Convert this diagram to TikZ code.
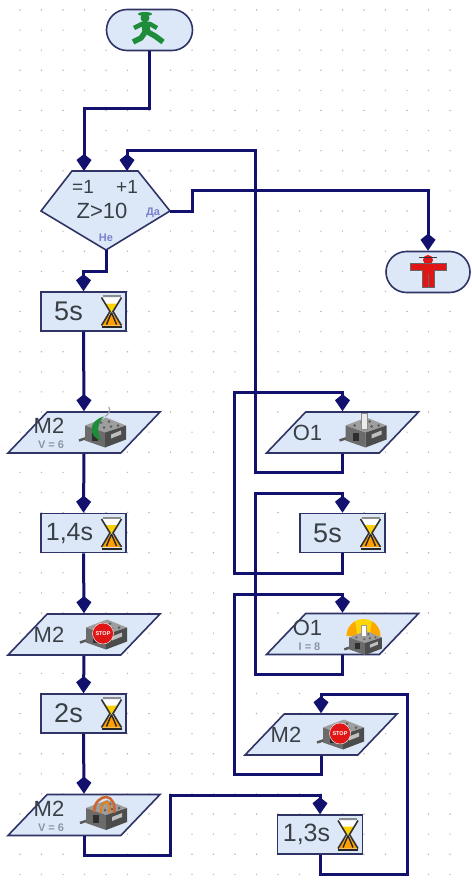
\documentclass[tikz,border=0pt]{standalone}
\usepackage{fontspec}
\setmainfont{Liberation Sans}
\usetikzlibrary{arrows.meta}
\usetikzlibrary{shapes.geometric,shapes.misc}
\definecolor{navy}{HTML}{12126E}
\definecolor{blockedge}{HTML}{2F3366}
\definecolor{blockfill}{HTML}{DCE8F8}
\definecolor{inktxt}{HTML}{3A3F46}
\definecolor{subtxt}{HTML}{8C94A6}
\definecolor{yesno}{HTML}{7C80CC}
\definecolor{walkgreen}{HTML}{1E8C3A}
\definecolor{stopred}{HTML}{E01515}
\tikzset{
 flow/.style={navy, line width=3, -{Kite[length=17pt,width=15pt,inset=6pt]}},
 blockline/.style={draw=blockedge, fill=blockfill, line width=1.6},
 endbox/.style={blockline, rounded rectangle, minimum width=86, minimum height=41, inner sep=0},
 timebox/.style={blockline, rectangle, minimum width=85, minimum height=39, inner sep=0},
 iobox/.style={blockline, trapezium, trapezium stretches=true, trapezium left angle=62, trapezium right angle=118, minimum width=152, minimum height=41, inner sep=1},
 ink/.style={text=inktxt, inner sep=0},
 pics/hourglass/.style={code={
  \fill[white] (-9,-14) -- (9,-14) -- (1,0) -- (9,14) -- (-9,14) -- (-1,0) -- cycle;
  \fill[yellow!70!orange] (-7,-8) -- (7,-8) -- (0,2) -- cycle;
  \fill[orange!75!yellow] (-9,14) -- (-5,6) -- (0,2) -- (5,6) -- (9,14) -- cycle;
  \draw[black!80, line width=1.6] (-10,-14) -- (-1.5,0) -- (-10,14) (10,-14) -- (1.5,0) -- (10,14);
  \draw[black!85, line width=1.4] (0,1) -- (-5,13) (0,1) -- (5,13);
  \draw[black!45, line width=2] (-9,-15.5) -- (9,-15.5);
  \draw[black!85, line width=2] (-10,15.5) -- (10,15.5);
 }},
 pics/brick/.style={code={
  \draw[black!65, line width=2.5] (-24,8) -- (-15,5);
  \fill[black!38] (-18,-7) -- (3,-15) -- (23,-7) -- (2,0) -- cycle;
  \fill[black!58] (-18,-7) -- (2,0) -- (2,15) -- (-18,8) -- cycle;
  \fill[black!70] (2,0) -- (23,-7) -- (23,7) -- (2,15) -- cycle;
  \foreach \a/\b in {-9/-7,-2/-10,6/-11,1/-5,8/-6,15/-7} {
   \fill[black!62] (\a,\b) circle (1.5);
  }
  \fill[black!82] (-11,0) rectangle (-5,8);
  \fill[black!25] (8,2) -- (18,-2) -- (18,2) -- (8,6) -- cycle;
 }},
 pics/motorgo/.style={code={
  \pic at (0,0) {brick};
  \draw[black!35, line width=1.2] (2,-16) arc (60:-20:9 and 8);
  \fill[walkgreen] (1,-16) .. controls (-15,-12) and (-15,4) .. (-2,8) .. controls (-6,0) and (-6,-10) .. (1,-16);
 }},
 pics/motorstop/.style={code={
  \pic at (0,0) {brick};
  \fill[stopred, draw=white, line width=.4] (-1,-1) circle (10.5);
  \node[text=white, font=\bfseries\fontsize{5.5}{5.5}\selectfont, inner sep=0] (-sign) at (-1,-1) {STOP};
 }},
 pics/motorback/.style={code={
  \pic at (0,0) {brick};
  \draw[brown!80!red, line width=2.6] (-10,-3) .. controls (-10,-14) and (-2,-18) .. (2,-18) .. controls (8,-18) and (12,-10) .. (10,-2);
  \draw[orange!60!brown, line width=2] (-3,-2) .. controls (-4,-10) and (0,-13) .. (3,-13) .. controls (6,-12) and (6,-6) .. (5,-2);
 }},
 pics/lampoff/.style={code={
  \pic at (0,0) {brick};
  \fill[black!8, draw=black!45, line width=.5] (-2,-3) -- (-2,-19) -- (4,-19) -- (4,-3) -- cycle;
 }},
 pics/lampon/.style={code={
  \fill[yellow!75!orange] (-17,2) arc (180:360:17) -- cycle;
  \fill[orange, opacity=.55] (-17,2) arc (180:240:17) -- (-6,2) -- cycle (17,2) arc (0:-60:17) -- (6,2) -- cycle;
  \pic[scale=.8] at (0,9) {brick};
  \fill[white, draw=black!40, line width=.5] (-2.5,2) -- (-2.5,-9) -- (2.5,-9) -- (2.5,2) -- cycle;
 }},
 pics/walker/.style={code={
  \draw[walkgreen, line width=5.5, line join=round] (-15,13) -- (-7,9) -- (-2,2) -- (7,7) -- (15,13);
  \draw[walkgreen, line width=4.5, line join=round] (-14,-1) -- (-6,-5) -- (2,-5) -- (9,-1);
  \draw[walkgreen, line width=8] (-2.5,-6) -- (-1.5,4);
  \fill[walkgreen] (-3,-11) circle (4.5);
  \fill[walkgreen] (-3,-15) ellipse (7 and 2);
 }},
 pics/standman/.style={code={
  \fill[stopred] (0,-12) circle (5);
  \fill[stopred, draw=black!60, line width=.5] (-18,-9) -- (18,-9) -- (18,-2) -- (6,-2) -- (6,15) -- (-6,15) -- (-6,-2) -- (-18,-2) -- cycle;
  \fill[black!80] (-9,-15) rectangle (9,-14);
  \draw[black!60, line width=.8] (0,2) -- (0,15);
 }},
}
\begin{document}
\begin{tikzpicture}[x=1pt,y=-1pt]
\useasboundingbox (0,0) rectangle (471,880);
% dotted sheet
\foreach \i in {0,...,21} {
 \foreach \j in {0,...,43} {
  \pgfmathtruncatemacro{\skipdot}{(\i>=11 && \i<=16 && \j>=19 && \j<=33 && !(\i==13 && (\j==20 || \j==25 || \j==26 || \j==27 || \j==30))) || (\i>=11 && \i<=12 && \j>=36 && \j<=38) ? 1 : 0}
  \ifnum\skipdot=0
   \fill[black!28] ({-1.5+21.5*\i},{10+20.1*\j}) circle (.8);
  \fi
 }
}
% begin and end
\node[endbox] (start) at (149.5,30) {};
\pic at (148,29) {walker};
\node[endbox, minimum width=84] (halt) at (428,272) {};
\pic at (428,272) {standman};
% counting branch
\draw[blockline] (72,171) coordinate (dec-l) -- (138,171) coordinate (dec-t) -- (170,211) coordinate (dec-r) -- (106,250) coordinate (dec-s) -- (41,211) coordinate (dec-w) -- cycle;
\coordinate (dec-a) at (84,171);
\coordinate (dec-b) at (127,171);
\node[ink, font=\fontsize{22}{22}\selectfont] (dec) at (102,211) {Z>10};
\node[ink, font=\fontsize{19}{19}\selectfont] (dec-eq) at (83,187) {=1};
\node[ink, font=\fontsize{19}{19}\selectfont] (dec-pl) at (127,187) {+1};
\node[text=yesno, inner sep=0, font=\bfseries\fontsize{11}{11}\selectfont] (dec-da) at (153,213) {Да};
\node[text=yesno, inner sep=0, font=\bfseries\fontsize{11}{11}\selectfont] (dec-ne) at (106,238) {Не};
% timers
\foreach \n/\x/\y/\t/\s/\d in {t1/83.5/311.5/5s/27/-15, t2/83.5/533/{1,4s}/25/-14, t3/83.5/713.5/2s/27/-15, t4/342.5/533/5s/27/-15, t5/320/834.5/{1,3s}/25/-13.5} {
 \node[timebox] (\n) at (\x,\y) {};
 \node[ink, font=\fontsize{\s}{\s}\selectfont] (\n-txt) at ([xshift=\d]\n.center) {\t};
 \pic at ([xshift=28]\n.center) {hourglass};
}
% motors and lamps
\foreach \n/\x/\y/\t/\p/\q/\u in {m1/84/432.5/M2/motorgo/19/{V = 6}, m2/84/634.5/M2/motorstop/20/{}, m3/84/815/M2/motorback/20/{V = 6}, m4/321/734.5/M2/motorstop/20/{}, o1/342.5/432.5/O1/lampoff/21/{}, o2/342.5/634/O1/lampon/21/{I = 8}} {
 \node[iobox] (\n) at (\x,\y) {};
 \pic at ([xshift=\q]\n.center) {\p};
 \if\relax\u\relax
  \node[ink, font=\fontsize{22}{22}\selectfont] (\n-txt) at ([xshift=-35]\n.center) {\t};
 \else
  \node[ink, font=\fontsize{22}{22}\selectfont] (\n-txt) at ([xshift=-35,yshift=6.5]\n.center) {\t};
  \node[text=subtxt, inner sep=0, font=\bfseries\fontsize{11}{11}\selectfont] (\n-sub) at ([xshift=-33,yshift=-12.5]\n.center) {\u};
 \fi
}
% main line
\draw[flow] (start.south) -- (149.5,109) -| (dec-a);
\draw[flow] (dec-s) -- (106,271) -| (t1.north);
\draw[flow] (t1.south) -- (m1.north);
\draw[flow] (m1.south) -- (t2.north);
\draw[flow] (t2.south) -- (m2.north);
\draw[flow] (m2.south) -- (t3.north);
\draw[flow] (t3.south) -- (m3.north);
\draw[flow] (dec-r) -- (192,211) -- (192,190) -| (halt.north);
% loops on the right
\draw[flow] (m3.south) -- (84,855) -- (170,855) -- (170,795) -| (t5.north);
\draw[flow] (t5.south) -- (320,874) -- (407,874) -- (407,694) -| (m4.north);
\draw[flow] (m4.south) -- (321,774) -- (234,774) -- (234,594) -| (o2.north);
\draw[flow] (o2.south) -- (342.5,674) -- (255,674) -- (255,493) -| (t4.north);
\draw[flow] (t4.south) -- (342.5,573) -- (234,573) -- (234,392) -| (o1.north);
\draw[flow] (o1.south) -- (342.5,472) -- (255,472) -- (255,150) -| (dec-b);
\end{tikzpicture}
\end{document}
